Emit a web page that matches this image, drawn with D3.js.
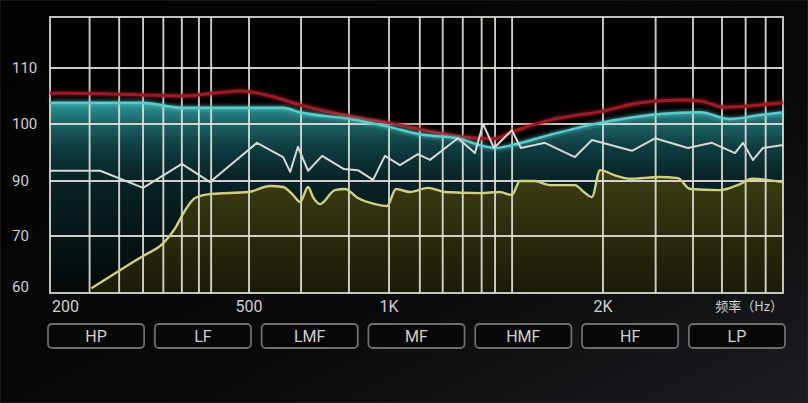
<!DOCTYPE html>
<html>
<head>
<meta charset="utf-8">
<script src="https://cdn.jsdelivr.net/npm/d3@7"></script>
<style>
  html, body { margin: 0; padding: 0; background: #050505; }
  svg { display: block; }
  text { font-family: "Roboto", "Liberation Sans", sans-serif; fill: #d0d0d0; }
</style>
</head>
<body>
<div id="chart"></div>
<script>
// Frequency axis (Hz) and level axis (dB)
const xDomain = [200, 500, 1000, 2000, 8000];
const xGrid = [240, 275, 307, 337, 367, 397, 420, 500, 647, 820, 1000, 1105, 1190, 1270, 1350, 1410, 1490, 2000, 3000, 4000, 5000, 6000, 7000];
const xTicks = [200, 500, 1000, 2000];
const xTickLabels = ['200', '500', '1K', '2K'];
const yDomain = [59, 60, 70, 90, 100, 110, 119];
const yGrid = [70, 90, 100, 110];
const yTicks = [60, 70, 90, 100, 110];
const bands = ['HP', 'LF', 'LMF', 'MF', 'HMF', 'HF', 'LP'];

// red curve
const redFreq = [200, 252, 307, 367, 480, 555, 644, 824, 1000, 1105, 1271, 1410, 1489, 1684, 2000, 2660, 3618, 4220, 5117, 6700, 8000];
const redDb = [105.5, 105.4, 105.2, 105.0, 105.9, 105.0, 103.4, 101.4, 100.2, 99.1, 97.7, 97.4, 98.6, 100.7, 102.3, 103.8, 104.3, 104.1, 103.0, 103.4, 103.8];

// cyan curve (filled)
const cyanFreq = [200, 307, 367, 592, 644, 824, 1000, 1105, 1258, 1343, 1410, 1489, 1684, 1981, 2873, 4220, 5322, 6700, 8000];
const cyanDb = [103.8, 103.8, 102.9, 102.9, 102.1, 100.9, 99.5, 98.2, 97.4, 96.3, 95.8, 96.3, 98.1, 100.2, 101.6, 102.1, 100.9, 101.6, 102.1];

// white curve
const whiteFreq = [200, 252, 307, 367, 418, 520, 592, 613, 637, 670, 718, 800, 857, 924, 980, 1036, 1098, 1142, 1250, 1321, 1356, 1405, 1489, 1533, 1657, 1826, 1930, 2500, 2985, 3849, 4630, 5527, 5877, 6350, 6857, 8000];
const whiteDb = [91.8, 91.8, 87.5, 93.0, 89.6, 96.7, 94.2, 91.6, 96.0, 91.8, 94.4, 92.1, 91.9, 90.2, 94.4, 92.8, 94.7, 93.7, 97.5, 94.9, 100.0, 95.8, 98.9, 95.8, 96.7, 94.2, 97.2, 95.3, 97.5, 95.8, 96.7, 94.9, 96.7, 93.7, 95.8, 96.3];

// yellow curve (filled)
const yellowFreq = [242, 276, 307, 337, 356, 372, 390, 420, 498, 555, 592, 622, 644, 670, 686, 711, 765, 804, 857, 933, 990, 1023, 1070, 1135, 1199, 1343, 1432, 1489, 1528, 1604, 1684, 1826, 1880, 1930, 1981, 2193, 2462, 3102, 3563, 3908, 4921, 5742, 6297, 8000];
const yellowDb = [59.8, 63.3, 66.1, 68.6, 72.9, 79.1, 83.8, 85.3, 86.0, 88.2, 87.8, 84.9, 82.4, 87.8, 84.2, 81.6, 86.7, 87.1, 83.8, 81.6, 80.9, 87.1, 86.0, 87.5, 86.0, 85.6, 86.0, 84.9, 90.0, 90.0, 88.5, 88.5, 86.0, 84.2, 91.9, 91.0, 90.4, 90.7, 90.5, 87.1, 86.7, 88.9, 90.4, 89.6];

const W = 808, H = 403;
const margins = {top: 17, right: 25, bottom: 110, left: 50};
const plotW = W - margins.left - margins.right;
const plotH = H - margins.top - margins.bottom;

const svg = d3.select('#chart').append('svg')
  .attr('width', W)
  .attr('height', H);

const defs = svg.append('defs');

const bgGrad = defs.append('linearGradient')
  .attr('id', 'bg').attr('x1', 0).attr('y1', 0).attr('x2', 1).attr('y2', 1);
bgGrad.append('stop').attr('offset', 0).attr('stop-color', '#020202');
bgGrad.append('stop').attr('offset', 0.6).attr('stop-color', '#08090a');
bgGrad.append('stop').attr('offset', 1).attr('stop-color', '#1b1d20');

// x scale is piecewise log; y scale is piecewise linear (non uniform grid)
const x = d3.scaleLog()
  .domain(xDomain)
  .range([0, 0.2715, 0.4625, 0.7544, 1].map(t => margins.left + t * plotW));

const y = d3.scaleLinear()
  .domain(yDomain)
  .range([1, 0.9783, 0.7935, 0.5942, 0.3877, 0.1848, 0].map(t => margins.top + t * plotH));

const tealGrad = defs.append('linearGradient')
  .attr('id', 'teal').attr('gradientUnits', 'userSpaceOnUse')
  .attr('x1', 0).attr('x2', 0).attr('y1', y(104)).attr('y2', y(59));
[[0, '#2c9a9a'], [0.11, '#1c6468'], [0.24, '#0f3c40'], [0.4, '#092326'], [1, '#040808']]
  .forEach(s => tealGrad.append('stop').attr('offset', s[0]).attr('stop-color', s[1]));

const oliveGrad = defs.append('linearGradient')
  .attr('id', 'olive').attr('gradientUnits', 'userSpaceOnUse')
  .attr('x1', 0).attr('x2', 0).attr('y1', y(92)).attr('y2', y(59));
[[0, '#3e3e13'], [0.3, '#333310'], [1, '#1a1a09']]
  .forEach(s => oliveGrad.append('stop').attr('offset', s[0]).attr('stop-color', s[1]));

const glow = defs.append('filter').attr('id', 'glow')
  .attr('x', '-5%').attr('y', '-50%').attr('width', '110%').attr('height', '200%');
glow.append('feGaussianBlur').attr('stdDeviation', 2).attr('result', 'b');
const fm = glow.append('feMerge');
fm.append('feMergeNode').attr('in', 'b');
fm.append('feMergeNode').attr('in', 'SourceGraphic');

const soft = defs.append('filter').attr('id', 'soft');
soft.append('feGaussianBlur').attr('stdDeviation', 0.5);

svg.append('rect')
  .attr('width', W).attr('height', H)
  .attr('fill', 'url(#bg)')
  .attr('stroke', '#2a2a2a');

svg.append('rect')
  .attr('x', margins.left).attr('y', margins.top)
  .attr('width', plotW).attr('height', plotH)
  .attr('fill', '#000');

const zip = (fs, vs) => fs.map((f, i) => ({f, v: vs[i]}));
const red = zip(redFreq, redDb);
const cyan = zip(cyanFreq, cyanDb);
const white = zip(whiteFreq, whiteDb);
const yellow = zip(yellowFreq, yellowDb);

const smoothArea = d3.area()
  .x(d => x(d.f)).y0(y(59)).y1(d => y(d.v))
  .curve(d3.curveMonotoneX);
const smoothLine = d3.line()
  .x(d => x(d.f)).y(d => y(d.v))
  .curve(d3.curveMonotoneX);
const sharpLine = d3.line()
  .x(d => x(d.f)).y(d => y(d.v));

svg.append('path').datum(cyan)
  .attr('d', smoothArea)
  .attr('fill', 'url(#teal)');

svg.append('path').datum(yellow)
  .attr('d', smoothArea)
  .attr('fill', 'url(#olive)');

// Grid
const grid = svg.append('g')
  .attr('stroke', '#e2e2dc')
  .attr('stroke-opacity', 0.9)
  .attr('stroke-width', 1.9)
  .attr('filter', 'url(#soft)');

grid.selectAll('.vg')
  .data(xGrid)
  .enter()
  .append('line')
  .attr('class', 'vg')
  .attr('x1', d => x(d)).attr('x2', d => x(d))
  .attr('y1', y(119)).attr('y2', y(59));

grid.selectAll('.hg')
  .data(yGrid)
  .enter()
  .append('line')
  .attr('class', 'hg')
  .attr('x1', x(200)).attr('x2', x(8000))
  .attr('y1', d => y(d)).attr('y2', d => y(d));

grid.append('rect')
  .attr('x', x(200)).attr('y', y(119))
  .attr('width', x(8000) - x(200))
  .attr('height', y(59) - y(119))
  .attr('fill', 'none');

// Curves
svg.append('path').datum(red)
  .attr('d', smoothLine)
  .attr('fill', 'none')
  .attr('stroke', '#9c1c28')
  .attr('stroke-width', 3)
  .attr('filter', 'url(#glow)');

svg.append('path').datum(cyan)
  .attr('d', smoothLine)
  .attr('fill', 'none')
  .attr('stroke', '#5ccccb')
  .attr('stroke-width', 2.4)
  .attr('filter', 'url(#glow)');

svg.append('path').datum(white)
  .attr('d', sharpLine)
  .attr('fill', 'none')
  .attr('stroke', '#d4d8d8')
  .attr('stroke-width', 2)
  .attr('stroke-linejoin', 'round');

svg.append('path').datum(yellow)
  .attr('d', smoothLine)
  .attr('fill', 'none')
  .attr('stroke', '#cfcf86')
  .attr('stroke-width', 2.4)
  .attr('filter', 'url(#soft)');

// Axis labels
svg.selectAll('.ylab')
  .data(yTicks)
  .enter()
  .append('text')
  .attr('class', 'ylab')
  .attr('x', 12)
  .attr('y', d => y(d))
  .attr('dy', '0.36em')
  .attr('font-size', 15)
  .text(d => d);

svg.selectAll('.xlab')
  .data(xTicks)
  .enter()
  .append('text')
  .attr('class', 'xlab')
  .attr('x', (d, i) => i === 0 ? x(d) + 2 : x(d))
  .attr('y', y(59) + 19)
  .attr('text-anchor', (d, i) => i === 0 ? 'start' : 'middle')
  .attr('font-size', 16)
  .text((d, i) => xTickLabels[i]);

svg.append('text')
  .attr('x', x(8000))
  .attr('y', y(59) + 18)
  .attr('text-anchor', 'end')
  .attr('font-size', 13)
  .style('font-family', '"Noto Sans CJK SC", sans-serif')
  .text('频率（Hz）');

// Band buttons
const band = d3.scaleBand()
  .domain(bands)
  .range([48, 785])
  .paddingInner(0.1);

const btn = svg.selectAll('.btn')
  .data(bands)
  .enter()
  .append('g')
  .attr('class', 'btn')
  .attr('transform', d => `translate(${band(d)}, 324)`);

btn.append('rect')
  .attr('width', band.bandwidth())
  .attr('height', 24)
  .attr('rx', 4)
  .attr('fill', '#070707')
  .attr('stroke', '#6e6e6e')
  .attr('stroke-width', 1.8);

btn.append('text')
  .attr('x', band.bandwidth() / 2)
  .attr('y', 12)
  .attr('dy', '0.36em')
  .attr('text-anchor', 'middle')
  .attr('font-size', 16)
  .text(d => d);
</script>
</body>
</html>
